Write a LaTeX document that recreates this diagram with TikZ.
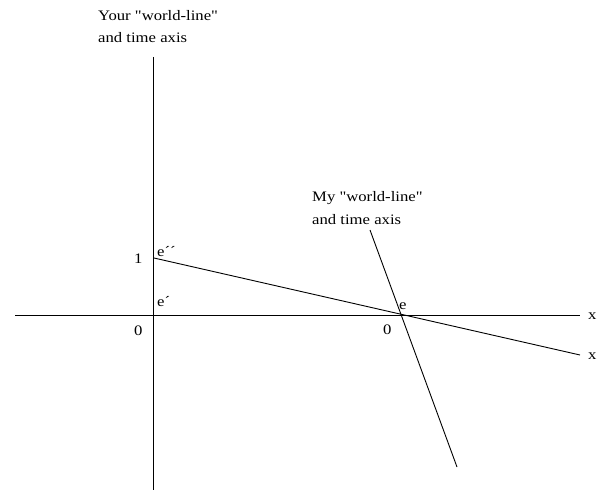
\documentclass[tikz,border=0pt]{standalone}
\usepackage{fontspec}
\newfontfamily\labelfont[FakeStretch=1.15]{Liberation Serif}
\usetikzlibrary{positioning}
\tikzstyle{axis} = [draw, line width=0.9pt]
\tikzstyle{lbl} = [inner sep=0pt, font=\labelfont\fontsize{14.5}{17}\selectfont]

\begin{document}
\begin{tikzpicture}[x=1pt, y=-1pt, lbl/.append style={anchor=west}]
				\useasboundingbox (0,0) rectangle (597,492);
				%Punkte
				\coordinate (Ytop) at (153,57);
				\coordinate (Ybot) at (153,490);
				\coordinate (Xl) at (15,315);
				\coordinate (Xr) at (580,315);
				\coordinate (one) at (154,258);
				\coordinate (Xpr) at (580,355);
				\coordinate (Mtop) at (370,230);
				\coordinate (Mbot) at (457,467);
				%Achsen
				\draw[axis] (Ytop) -- (Ybot);
				\draw[axis] (Xl) -- (Xr);
				\draw[axis] (one) -- (Xpr);
				\draw[axis] (Mtop) -- (Mbot);
				%Beschriftung
				\node[lbl] (your1) at (98,16) {Your "world-line"};
				\node[lbl] (your2) at (98,38) {and time axis};
				\node[lbl] (my1) at (312,198) {My "world-line"};
				\node[lbl] (my2) at (312,220) {and time axis};
				\node[lbl] (xa) at (588,316) {x};
				\node[lbl] (xb) at (588,356) {x};
				\node[lbl] (num1) at (134,259) {1};
				\node[lbl] (num0) at (134,331) {0};
				\node[lbl] (numo) at (383,330) {0};
				\node[lbl] (epp) at (157,252) {e´´};
				\node[lbl] (ep) at (157,302) {e´};
				\node[lbl] (e) at (399,306) {e};
			\end{tikzpicture}
\end{document}
